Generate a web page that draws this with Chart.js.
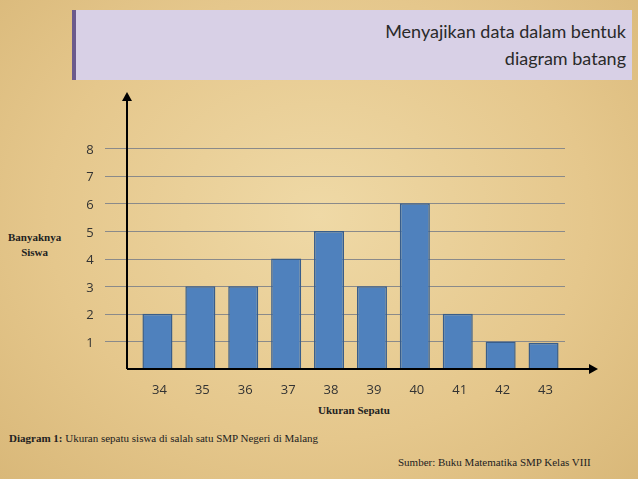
<!DOCTYPE html>
<html>
<head>
<meta charset="utf-8">
<script src="https://cdn.jsdelivr.net/npm/chart.js@4"></script>
<style>
  html, body { margin: 0; padding: 0; }
  body {
    width: 638px; height: 479px; position: relative; overflow: hidden;
    background: radial-gradient(ellipse at 50% 45%, #efd9a6 0%, #e5c78c 60%, #d9b879 100%);
  }
  .title {
    position: absolute; left: 72px; top: 10px; width: 560px; height: 70px;
    background: #d8d0e6; border-left: 4px solid #6b5a8c; box-sizing: border-box;
    font-family: 'Lato', sans-serif; font-size: 18px; color: #2a2a2a;
    text-align: right; padding: 8px 6px 0 0; line-height: 27px;
  }
  .note { position: absolute; font-family: 'Liberation Serif', serif; font-size: 11px; color: #222; }
  canvas { position: absolute; left: 0; top: 0; }
</style>
</head>
<body>
<div class="title">Menyajikan data dalam bentuk<br>diagram batang</div>
<div class="note" style="left:8px;top:230px;font-weight:bold;text-align:center;line-height:15px;">Banyaknya<br>Siswa</div>
<div class="note" style="left:318px;top:404px;font-weight:bold;">Ukuran Sepatu</div>
<div class="note" style="left:9px;top:432px;"><b>Diagram 1:</b> Ukuran sepatu siswa di salah satu SMP Negeri di Malang</div>
<div class="note" style="left:398px;top:456px;">Sumber: Buku Matematika SMP Kelas VIII</div>
<canvas id="chart" width="638" height="479"></canvas>
<script>
  // Chart data
  const sizes = ['34', '35', '36', '37', '38', '39', '40', '41', '42', '43'];
  const counts = [2, 3, 3, 4, 5, 3, 6, 2, 1, 0.95];
  const yTicks = [1, 2, 3, 4, 5, 6, 7, 8];

  const AXIS_X = 127;

  // Draws gridlines, arrows and tick labels using the scales
  const axesPlugin = {
    id: 'axesPlugin',
    beforeDatasetsDraw(chart) {
      const { ctx, chartArea: a, scales: { y } } = chart;
      ctx.save();
      ctx.strokeStyle = '#8a8a8a';
      ctx.lineWidth = 1;
      yTicks.forEach((v) => {
        const py = Math.round(y.getPixelForValue(v)) + 0.5;
        ctx.beginPath(); ctx.moveTo(105, py); ctx.lineTo(a.right, py); ctx.stroke();
      });
      ctx.restore();
    },
    afterDatasetsDraw(chart) {
      const { ctx, chartArea: a, scales: { x, y } } = chart;
      ctx.save();
      ctx.strokeStyle = '#000'; ctx.fillStyle = '#000'; ctx.lineWidth = 2;
      ctx.beginPath(); ctx.moveTo(AXIS_X, a.bottom); ctx.lineTo(AXIS_X, 100); ctx.stroke();
      ctx.beginPath(); ctx.moveTo(AXIS_X, a.bottom); ctx.lineTo(590, a.bottom); ctx.stroke();
      ctx.beginPath(); ctx.moveTo(AXIS_X - 5, 101); ctx.lineTo(AXIS_X, 92); ctx.lineTo(AXIS_X + 5, 101); ctx.fill();
      ctx.beginPath(); ctx.moveTo(589, a.bottom - 5); ctx.lineTo(598, a.bottom); ctx.lineTo(589, a.bottom + 5); ctx.fill();
      ctx.font = '13px "Open Sans", sans-serif';
      ctx.fillStyle = '#333';
      ctx.textAlign = 'center'; ctx.textBaseline = 'middle';
      yTicks.forEach((v) => ctx.fillText(String(v), 90, y.getPixelForValue(v) + 2));
      sizes.forEach((s, i) => ctx.fillText(s, x.getPixelForValue(i) + 2, a.bottom + 21));
      ctx.restore();
    },
  };

  new Chart(document.getElementById('chart'), {
    type: 'bar',
    data: {
      labels: sizes,
      datasets: [{
        data: counts,
        backgroundColor: '#4f81bd',
        borderColor: '#385d8a',
        borderWidth: 1.5,
        barPercentage: 0.7,
        categoryPercentage: 1,
      }],
    },
    options: {
      responsive: false,
      animation: false,
      layout: { padding: { left: 136, right: 73, top: 148, bottom: 110 } },
      plugins: { legend: { display: false }, tooltip: { enabled: false } },
      scales: {
        x: { display: false },
        y: { display: false, min: 0, max: 8 },
      },
    },
    plugins: [axesPlugin],
  });
</script>
</body>
</html>
